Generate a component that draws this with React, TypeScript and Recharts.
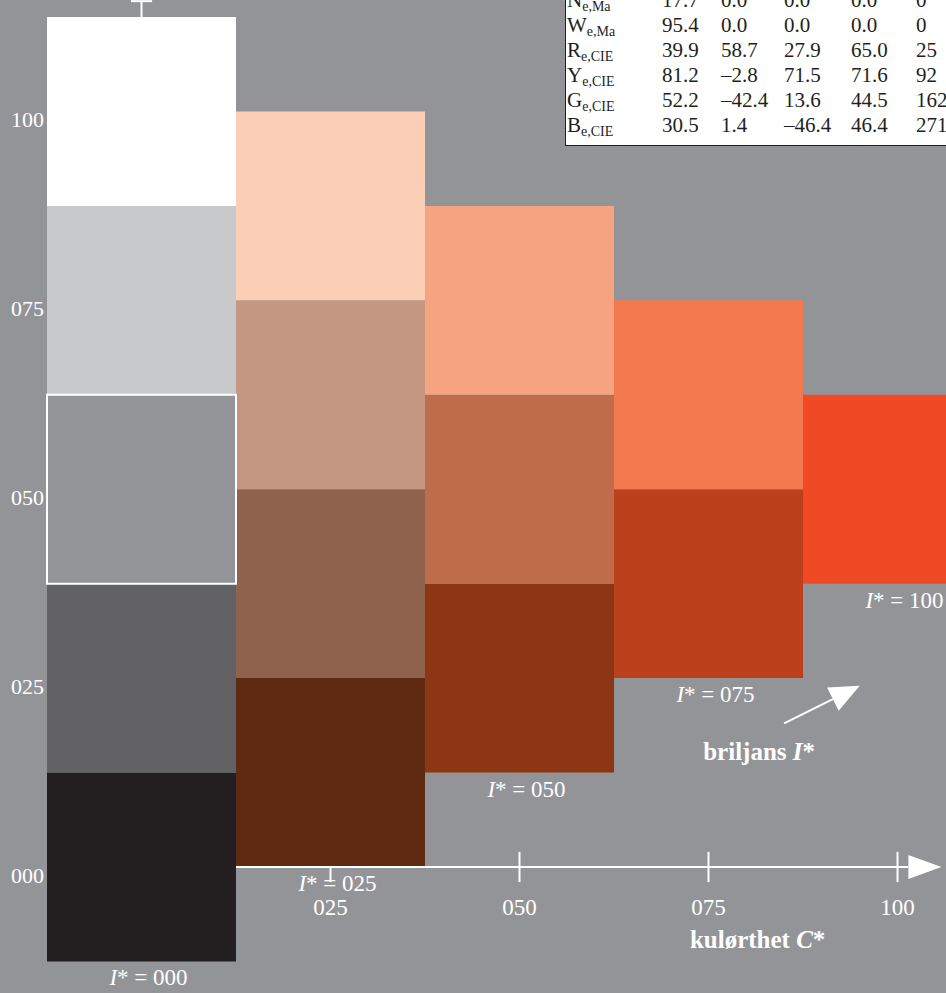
import { ComposedChart, XAxis, YAxis, ReferenceArea, ReferenceLine, ReferenceDot } from 'recharts';

// colour grid: columns by chroma C*, cells by lightness (bottom to top)
const CHROMA = [0, 25, 50, 75, 100];
const LIGHTNESS = [
  [0, 25, 50, 75, 100],
  [12.5, 37.5, 62.5, 87.5],
  [25, 50, 75],
  [37.5, 62.5],
  [50],
];
const FILLS = [
  ['#231f20', '#626264', '#939498', '#c8c9cb', '#ffffff'],
  ['#5e2b12', '#8f624d', '#c49782', '#fbcfb5'],
  ['#8d3614', '#bf6c4b', '#f5a47f'],
  ['#bb411d', '#f27a4e'],
  ['#ef4a23'],
];
const OUTLINED_CELL = { col: 0, row: 2 };
const BRILLIANCE = ['000', '025', '050', '075', '100'];
const Y_TICKS = [0, 25, 50, 75, 100];
const X_TICKS = [25, 50, 75, 100];

const TABLE_LABELS = [
  ['N', 'e,Ma'],
  ['W', 'e,Ma'],
  ['R', 'e,CIE'],
  ['Y', 'e,CIE'],
  ['G', 'e,CIE'],
  ['B', 'e,CIE'],
];
const TABLE_VALUES = [
  ['17.7', '0.0', '0.0', '0.0', '0'],
  ['95.4', '0.0', '0.0', '0.0', '0'],
  ['39.9', '58.7', '27.9', '65.0', '25'],
  ['81.2', '\u20132.8', '71.5', '71.6', '92'],
  ['52.2', '\u201342.4', '13.6', '44.5', '162'],
  ['30.5', '1.4', '\u201346.4', '46.4', '271'],
];

const SERIF = '"Liberation Serif", "DejaVu Serif", serif';
const BG = '#939498';
const STEP = CHROMA[1] - CHROMA[0];
const HALF = STEP / 2;
const TABLE_COLS = [96, 155, 218, 285, 350];

const pad = (v: number) => String(v).padStart(3, '0');

const arrowShape = (headLen: number, headHalf: number) => (props: any) => {
  const { x1, y1, x2, y2 } = props;
  const dx = x2 - x1;
  const dy = y2 - y1;
  const len = Math.hypot(dx, dy) || 1;
  const ux = dx / len;
  const uy = dy / len;
  const bx = x2 - ux * headLen;
  const by = y2 - uy * headLen;
  const px = -uy * headHalf;
  const py = ux * headHalf;
  return (
    <g>
      <line x1={x1} y1={y1} x2={bx} y2={by} stroke="#fff" strokeWidth={2} />
      <polygon points={`${x2},${y2} ${bx + px},${by + py} ${bx - px},${by - py}`} fill="#fff" />
    </g>
  );
};

const XTick = ({ x, y, payload }: any) => (
  <text x={x} y={y + 48} textAnchor="middle" fill="#fff" fontSize={23} fontFamily={SERIF}>
    {pad(payload.value)}
  </text>
);

const YTick = ({ x, y, payload }: any) => (
  <text x={x - 3} y={y + 16} textAnchor="end" fill="#fff" fontSize={22} fontFamily={SERIF}>
    {pad(payload.value)}
  </text>
);

function DataTable() {
  return (
    <div
      style={{
        position: 'absolute',
        left: 565,
        top: -13,
        width: 420,
        height: 159,
        boxSizing: 'border-box',
        border: '1.5px solid #231f20',
        background: '#fff',
        color: '#231f20',
        fontFamily: SERIF,
        fontSize: 21,
        lineHeight: '25px',
      }}
    >
      {TABLE_LABELS.map(([main, sub], i) => (
        <div key={main} style={{ position: 'absolute', top: 25 * i, left: 0, width: '100%', height: 25 }}>
          <span style={{ position: 'absolute', left: 1, whiteSpace: 'nowrap' }}>
            {main}
            <span style={{ fontSize: 14, verticalAlign: -4 }}>{sub}</span>
          </span>
          {TABLE_VALUES[i].map((v, j) => (
            <span key={j} style={{ position: 'absolute', left: TABLE_COLS[j], whiteSpace: 'nowrap' }}>
              {v}
            </span>
          ))}
        </div>
      ))}
    </div>
  );
}

export default function App() {
  const cells = CHROMA.flatMap((c, col) =>
    LIGHTNESS[col].map((l, row) => ({ c, l, col, row, fill: FILLS[col][row] }))
  );
  const plain = cells.filter((d) => !(d.col === OUTLINED_CELL.col && d.row === OUTLINED_CELL.row));
  const outlined = cells.filter((d) => d.col === OUTLINED_CELL.col && d.row === OUTLINED_CELL.row);
  const columnBottom = (c: number) => {
    const col = CHROMA.indexOf(c);
    return col < 0 ? Infinity : Math.min(...LIGHTNESS[col]) - HALF;
  };
  const topOfAxis = Math.max(...LIGHTNESS[0]) + HALF;

  return (
    <div
      style={{
        position: 'fixed',
        left: 0,
        top: 0,
        width: 946,
        height: 993,
        overflow: 'hidden',
        background: BG,
      }}
    >
      <ComposedChart width={993} height={993} margin={{ top: 17, right: 1, bottom: 0, left: 0 }} data={cells}>
        <XAxis
          type="number"
          dataKey="c"
          domain={[-HALF, 100 + HALF]}
          allowDataOverflow
          ticks={X_TICKS}
          interval={0}
          height={126}
          axisLine={false}
          tickLine={false}
          tickSize={0}
          tickMargin={0}
          tick={(p: any) => <XTick {...p} />}
        />
        <YAxis
          type="number"
          dataKey="l"
          domain={[0, 100 + HALF]}
          allowDataOverflow
          ticks={Y_TICKS}
          interval={0}
          width={47}
          axisLine={false}
          tickLine={false}
          tickSize={0}
          tickMargin={0}
          tick={(p: any) => <YTick {...p} />}
        />

        {[...plain, ...outlined].map((d) => {
          const isOutlined = d.col === OUTLINED_CELL.col && d.row === OUTLINED_CELL.row;
          return (
            <ReferenceArea
              key={`${d.col}-${d.row}`}
              x1={d.c - HALF}
              x2={d.c + HALF}
              y1={d.l - HALF}
              y2={d.l + HALF}
              fill={d.fill}
              fillOpacity={1}
              stroke={isOutlined ? '#fff' : 'none'}
              strokeWidth={isOutlined ? 2 : 0}
              ifOverflow="visible"
            />
          );
        })}

        {/* vertical axis: only the part above the grey column shows */}
        <ReferenceLine
          segment={[{ x: 0, y: topOfAxis }, { x: 0, y: 114.6 }]}
          stroke="#fff"
          strokeWidth={2}
          ifOverflow="visible"
        />
        <ReferenceLine
          segment={[{ x: -1.4, y: 114.6 }, { x: 1.4, y: 114.6 }]}
          stroke="#fff"
          strokeWidth={2}
          ifOverflow="visible"
        />

        {/* horizontal axis with arrow */}
        <ReferenceLine
          segment={[{ x: HALF, y: 0 }, { x: 105.8, y: 0 }]}
          shape={arrowShape(33, 12)}
          ifOverflow="visible"
        />
        {X_TICKS.map((t) => (
          <ReferenceLine
            key={t}
            segment={[{ x: t, y: -2 }, { x: t, y: Math.min(2, columnBottom(t)) }]}
            stroke="#fff"
            strokeWidth={2}
            ifOverflow="visible"
          />
        ))}

        {/* brilliance labels under each column */}
        {CHROMA.map((c, col) => (
          <ReferenceDot
            key={`lab-${c}`}
            x={c}
            y={columnBottom(c)}
            ifOverflow="visible"
            shape={(p: any) => (
              <text x={p.cx + 7} y={p.cy + 24} textAnchor="middle" fill="#fff" fontSize={23} fontFamily={SERIF}>
                <tspan fontStyle="italic">I</tspan>* = {BRILLIANCE[col]}
              </text>
            )}
          />
        ))}

        {/* brilliance direction arrow */}
        <ReferenceLine
          segment={[{ x: 85, y: 19 }, { x: 95, y: 24 }]}
          shape={arrowShape(30, 13)}
          ifOverflow="visible"
        />
        <ReferenceDot
          x={81.7}
          y={14.1}
          ifOverflow="visible"
          shape={(p: any) => (
            <text x={p.cx} y={p.cy} textAnchor="middle" fill="#fff" fontSize={25} fontWeight="bold" fontFamily={SERIF}>
              briljans <tspan fontStyle="italic">I</tspan>*
            </text>
          )}
        />
        <ReferenceDot
          x={81.5}
          y={-10.7}
          ifOverflow="visible"
          shape={(p: any) => (
            <text x={p.cx} y={p.cy} textAnchor="middle" fill="#fff" fontSize={25} fontWeight="bold" fontFamily={SERIF}>
              kulørthet <tspan fontStyle="italic">C</tspan>*
            </text>
          )}
        />
      </ComposedChart>
      <DataTable />
    </div>
  );
}
